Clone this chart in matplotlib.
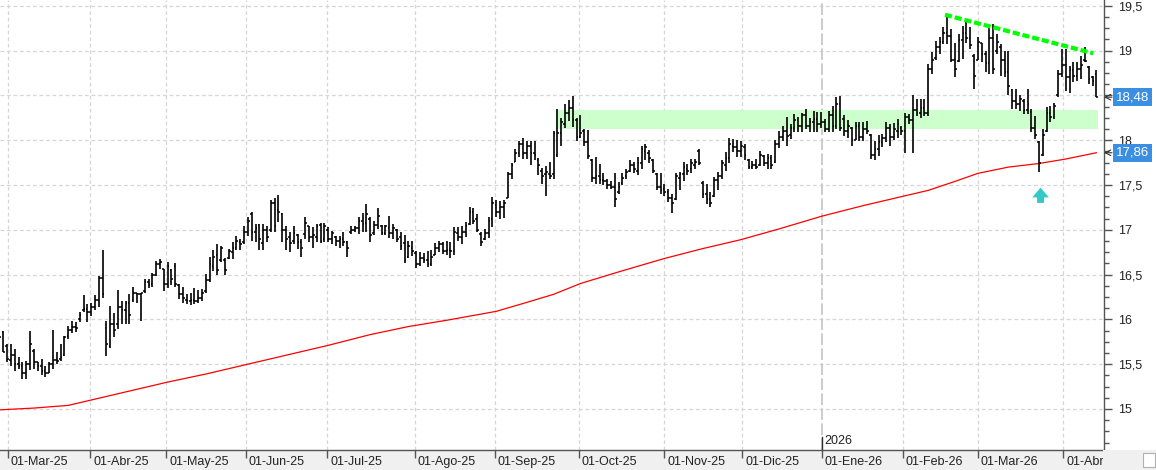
# Daily OHLC chart with 200-session average, support band and falling trendline
import numpy as np
import matplotlib
matplotlib.use("Agg")
import matplotlib.pyplot as plt
from matplotlib.patches import Rectangle
from matplotlib.ticker import MultipleLocator, FuncFormatter
from matplotlib.transforms import blended_transform_factory, ScaledTranslation

plt.rcParams['font.family'] = ['Liberation Sans', 'DejaVu Sans']

# ---- data (bar 0 = 03-Mar-25, first two bars are late February) ----
first_bar = -2

highs = [
    15.88, 15.87, 15.72, 15.72, 15.67, 15.58, 15.52, 15.54, 15.87, 15.67, 15.52, 15.56,
    15.48, 15.52, 15.88, 15.64, 15.72, 15.82, 15.93, 15.98, 15.97, 16.08,
    16.27, 16.17, 16.18, 16.27, 16.48, 16.77, 15.98, 16.15, 16.07, 16.33,
    16.21, 16.21, 16.28, 16.36, 16.30, 16.30, 16.45, 16.45, 16.52, 16.65,
    16.67, 16.56, 16.64, 16.56, 16.63, 16.40, 16.36, 16.28,
    16.30, 16.35, 16.33, 16.34, 16.51, 16.70, 16.77, 16.84, 16.82, 16.69,
    16.79, 16.86, 16.93, 16.90, 17.04, 17.14, 17.20, 17.06, 17.07, 17.07,
    17.04, 17.33, 17.36, 17.39, 17.19, 17.04, 16.97, 17.04, 16.95, 16.90,
    17.14, 17.04, 17.03, 17.07, 17.08, 17.08, 17.03, 16.99, 16.93, 16.93,
    16.97, 16.88, 17.04, 17.04, 17.14, 17.19, 17.29, 17.14, 17.10, 17.24,
    17.05, 17.05, 17.15, 17.06, 17.01, 16.97, 16.94, 16.88, 16.88, 16.76,
    16.75, 16.74, 16.76, 16.77, 16.85, 16.88, 16.86, 16.87, 16.86, 17.03,
    17.03, 17.04, 17.09, 17.25, 17.24, 17.18, 16.97, 17.01, 17.14, 17.37,
    17.33, 17.32, 17.33, 17.65, 17.75, 17.90, 17.99, 18.03, 17.99, 17.99,
    17.99, 17.80, 17.69, 17.71, 17.76, 18.10, 18.35, 18.25, 18.40, 18.45,
    18.49, 18.25, 18.28, 18.12, 18.11, 17.79, 17.81, 17.73, 17.63, 17.57,
    17.55, 17.63, 17.53, 17.63, 17.68, 17.78, 17.76, 17.81, 17.94, 17.96,
    17.89, 17.79, 17.63, 17.63, 17.51, 17.46, 17.40, 17.63, 17.65, 17.76,
    17.73, 17.79, 17.79, 17.90, 17.55, 17.51, 17.42, 17.59, 17.65, 17.78,
    17.87, 18.03, 18.01, 18.00, 17.99, 17.96, 17.79, 17.77, 17.79, 17.88,
    17.83, 17.85, 17.84, 18.00, 18.10, 18.16, 18.26, 18.18, 18.29, 18.26,
    18.30, 18.35, 18.25, 18.33, 18.31, 18.32, 18.24, 18.33, 18.38, 18.48,
    18.49, 18.28, 18.22, 18.15, 18.20, 18.20, 18.20, 18.21, 18.07, 17.99,
    18.06, 18.07, 18.20, 18.18, 18.19, 18.24, 18.16, 18.30, 18.29, 18.50,
    18.46, 18.46, 18.46, 18.85, 18.98, 19.11, 19.15, 19.26, 19.41, 19.24,
    19.09, 19.19, 19.28, 19.32, 19.26, 18.96, 19.15, 19.09, 19.00, 19.26,
    19.30, 19.19, 19.07, 19.00, 19.00, 18.57, 18.57, 18.51, 18.46, 18.57,
    18.35, 18.27, 17.99, 18.12, 18.37, 18.38, 18.42, 18.78, 19.02, 19.02,
    18.83, 18.87, 18.87, 18.94, 19.04, 18.83, 18.72, 18.78,
]

lows = [
    15.70, 15.64, 15.52, 15.48, 15.42, 15.45, 15.34, 15.34, 15.43, 15.45, 15.42, 15.38,
    15.36, 15.40, 15.45, 15.50, 15.54, 15.59, 15.78, 15.85, 15.86, 15.97,
    16.08, 15.97, 16.04, 16.10, 16.14, 16.24, 15.59, 15.68, 15.80, 15.89,
    15.95, 15.95, 15.95, 16.19, 16.18, 15.98, 16.30, 16.35, 16.36, 16.48,
    16.56, 16.32, 16.35, 16.38, 16.36, 16.23, 16.18, 16.17,
    16.16, 16.17, 16.18, 16.20, 16.30, 16.42, 16.54, 16.50, 16.64, 16.50,
    16.67, 16.67, 16.78, 16.78, 16.84, 16.93, 16.88, 16.86, 16.77, 16.77,
    16.86, 16.97, 16.98, 17.09, 16.86, 16.77, 16.75, 16.84, 16.79, 16.70,
    16.90, 16.86, 16.80, 16.86, 16.85, 16.86, 16.86, 16.84, 16.82, 16.80,
    16.82, 16.70, 16.95, 16.97, 16.95, 16.97, 16.98, 16.86, 16.94, 17.01,
    16.94, 16.94, 16.91, 16.90, 16.86, 16.77, 16.63, 16.69, 16.71, 16.57,
    16.60, 16.63, 16.58, 16.60, 16.72, 16.75, 16.73, 16.72, 16.69, 16.72,
    16.88, 16.84, 16.92, 17.05, 17.06, 16.97, 16.82, 16.89, 16.91, 17.03,
    17.14, 17.12, 17.13, 17.35, 17.57, 17.76, 17.81, 17.79, 17.79, 17.72,
    17.78, 17.61, 17.51, 17.38, 17.57, 17.57, 17.81, 17.94, 18.14, 18.21,
    18.15, 17.99, 18.02, 17.94, 17.79, 17.53, 17.51, 17.51, 17.50, 17.46,
    17.46, 17.26, 17.40, 17.50, 17.57, 17.65, 17.63, 17.61, 17.68, 17.78,
    17.74, 17.63, 17.44, 17.40, 17.38, 17.31, 17.19, 17.33, 17.44, 17.55,
    17.61, 17.63, 17.68, 17.72, 17.35, 17.29, 17.25, 17.37, 17.44, 17.57,
    17.66, 17.74, 17.87, 17.81, 17.81, 17.78, 17.68, 17.68, 17.68, 17.71,
    17.71, 17.68, 17.68, 17.75, 17.91, 17.99, 17.94, 18.01, 18.09, 18.09,
    18.09, 18.12, 18.09, 18.09, 18.09, 18.14, 18.09, 18.09, 18.09, 18.12,
    18.10, 18.05, 18.03, 17.94, 18.00, 17.99, 17.99, 18.07, 17.79, 17.78,
    17.82, 17.92, 17.98, 17.94, 18.00, 18.03, 18.06, 17.86, 18.18, 17.86,
    18.27, 18.25, 18.27, 18.27, 18.74, 18.89, 18.96, 19.07, 19.07, 18.87,
    18.70, 18.87, 18.91, 19.09, 19.02, 18.57, 18.89, 18.87, 18.76, 18.74,
    18.74, 18.96, 18.72, 18.70, 18.51, 18.35, 18.35, 18.33, 18.29, 18.29,
    18.09, 18.01, 17.64, 17.82, 18.09, 18.20, 18.24, 18.48, 18.70, 18.55,
    18.53, 18.65, 18.66, 18.68, 18.87, 18.63, 18.61, 18.48,
]

opens = [
    15.80, 15.86, 15.70, 15.55, 15.60, 15.50, 15.48, 15.40, 15.50, 15.65, 15.52, 15.48,
    15.42, 15.40, 15.50, 15.55, 15.56, 15.60, 15.82, 15.88, 15.92, 16.00,
    16.10, 16.12, 16.08, 16.14, 16.22, 16.46, 15.90, 15.70, 15.95, 15.95,
    16.14, 16.10, 16.18, 16.22, 16.30, 16.28, 16.32, 16.42, 16.40, 16.50,
    16.62, 16.56, 16.40, 16.55, 16.60, 16.38, 16.28, 16.22,
    16.20, 16.22, 16.20, 16.24, 16.32, 16.44, 16.60, 16.72, 16.66, 16.66,
    16.68, 16.75, 16.80, 16.86, 16.86, 16.98, 17.18, 16.98, 17.05, 16.85,
    17.00, 17.00, 17.30, 17.22, 17.18, 17.00, 16.92, 16.88, 16.94, 16.86,
    16.95, 17.04, 16.92, 16.92, 17.05, 16.90, 17.00, 16.90, 16.92, 16.88,
    16.90, 16.86, 16.98, 17.00, 17.02, 17.10, 17.08, 17.12, 16.96, 17.05,
    17.04, 16.96, 17.02, 16.96, 17.00, 16.92, 16.85, 16.70, 16.80, 16.74,
    16.62, 16.68, 16.66, 16.62, 16.72, 16.80, 16.84, 16.76, 16.78, 16.76,
    16.96, 16.92, 16.98, 17.06, 17.20, 17.12, 16.95, 16.90, 16.96, 17.12,
    17.28, 17.20, 17.26, 17.36, 17.62, 17.76, 17.86, 17.96, 17.86, 17.94,
    17.86, 17.78, 17.66, 17.62, 17.62, 17.62, 17.84, 18.08, 18.18, 18.30,
    18.36, 18.22, 18.04, 18.10, 17.98, 17.78, 17.58, 17.60, 17.56, 17.54,
    17.50, 17.48, 17.42, 17.52, 17.60, 17.66, 17.72, 17.66, 17.74, 17.88,
    17.86, 17.78, 17.62, 17.48, 17.46, 17.42, 17.36, 17.34, 17.58, 17.62,
    17.68, 17.68, 17.72, 17.88, 17.52, 17.40, 17.34, 17.38, 17.56, 17.60,
    17.72, 17.80, 17.94, 17.92, 17.88, 17.92, 17.78, 17.70, 17.72, 17.72,
    17.82, 17.74, 17.80, 17.76, 17.96, 18.04, 18.10, 18.06, 18.14, 18.22,
    18.16, 18.28, 18.16, 18.20, 18.24, 18.18, 18.20, 18.12, 18.28, 18.16,
    18.40, 18.24, 18.10, 18.14, 18.00, 18.16, 18.04, 18.12, 18.06, 17.84,
    17.90, 17.98, 18.02, 18.14, 18.04, 18.10, 18.14, 18.10, 18.26, 18.22,
    18.34, 18.30, 18.36, 18.30, 18.80, 18.92, 19.04, 19.10, 19.20, 19.16,
    18.90, 18.88, 19.12, 19.20, 19.14, 18.94, 18.90, 19.08, 18.96, 18.86,
    19.14, 19.00, 19.04, 18.90, 18.76, 18.56, 18.44, 18.40, 18.44, 18.34,
    18.32, 18.14, 17.98, 17.84, 18.10, 18.30, 18.26, 18.50, 18.74, 18.84,
    18.70, 18.78, 18.72, 18.80, 18.90, 18.82, 18.70, 18.74,
]

closes = [
    15.80, 15.64, 15.56, 15.60, 15.50, 15.48, 15.40, 15.50, 15.72, 15.52, 15.48, 15.42,
    15.40, 15.50, 15.55, 15.54, 15.58, 15.80, 15.88, 15.92, 15.90, 16.05,
    16.12, 16.08, 16.14, 16.22, 16.46, 16.28, 15.72, 15.95, 15.88, 16.14,
    16.10, 16.18, 16.05, 16.30, 16.28, 16.30, 16.42, 16.38, 16.50, 16.62,
    16.64, 16.40, 16.60, 16.45, 16.40, 16.28, 16.24, 16.20,
    16.22, 16.20, 16.24, 16.30, 16.44, 16.62, 16.70, 16.55, 16.80, 16.55,
    16.76, 16.80, 16.88, 16.84, 16.98, 17.10, 16.98, 17.02, 16.90, 17.00,
    16.92, 17.30, 17.04, 17.20, 17.00, 16.90, 16.85, 16.96, 16.86, 16.80,
    17.08, 16.92, 16.94, 17.04, 16.88, 17.04, 16.90, 16.96, 16.88, 16.90,
    16.86, 16.80, 17.00, 17.02, 17.10, 17.06, 17.18, 16.94, 17.05, 17.15,
    16.96, 17.04, 16.96, 17.02, 16.90, 16.82, 16.66, 16.82, 16.76, 16.62,
    16.68, 16.66, 16.62, 16.70, 16.80, 16.84, 16.76, 16.78, 16.76, 16.98,
    16.92, 16.98, 17.04, 17.20, 17.10, 17.00, 16.86, 16.96, 17.10, 17.30,
    17.20, 17.26, 17.30, 17.62, 17.72, 17.86, 17.96, 17.86, 17.94, 17.86,
    17.84, 17.72, 17.60, 17.65, 17.60, 18.08, 18.08, 18.20, 18.30, 18.36,
    18.22, 18.04, 18.08, 17.98, 17.82, 17.58, 17.60, 17.56, 17.54, 17.50,
    17.48, 17.34, 17.48, 17.58, 17.64, 17.72, 17.68, 17.74, 17.90, 17.92,
    17.80, 17.66, 17.48, 17.44, 17.42, 17.36, 17.30, 17.60, 17.62, 17.70,
    17.66, 17.74, 17.76, 17.74, 17.40, 17.34, 17.30, 17.56, 17.60, 17.74,
    17.80, 17.96, 17.92, 17.88, 17.94, 17.84, 17.70, 17.72, 17.70, 17.84,
    17.74, 17.80, 17.72, 17.96, 18.04, 18.10, 18.05, 18.14, 18.22, 18.16,
    18.28, 18.16, 18.20, 18.24, 18.18, 18.20, 18.12, 18.28, 18.16, 18.40,
    18.14, 18.10, 18.16, 18.00, 18.16, 18.04, 18.12, 18.10, 17.84, 17.90,
    17.98, 18.02, 18.14, 18.04, 18.12, 18.18, 18.10, 18.26, 18.22, 18.34,
    18.30, 18.36, 18.30, 18.80, 18.90, 19.04, 19.10, 19.20, 19.16, 18.90,
    18.80, 19.12, 19.20, 19.14, 19.06, 18.72, 19.10, 18.96, 18.86, 19.14,
    18.80, 19.10, 18.90, 18.76, 18.60, 18.44, 18.40, 18.46, 18.34, 18.40,
    18.14, 18.06, 17.74, 18.06, 18.30, 18.26, 18.38, 18.74, 18.84, 18.70,
    18.78, 18.72, 18.80, 18.84, 18.88, 18.68, 18.66, 18.48,
]

# 200-session moving average, read at a set of bars
ma_bar = [-2, 7, 16, 22, 32, 42, 52, 63, 73, 84, 95, 105, 115, 128, 136, 143,
          150, 160, 172, 182, 192, 202, 213, 224, 234, 241, 248, 254, 262, 270, 277, 285]
ma_val = [14.99, 15.01, 15.04, 15.10, 15.20, 15.30, 15.39, 15.50, 15.60, 15.71,
          15.83, 15.92, 15.99, 16.09, 16.19, 16.28, 16.40, 16.53, 16.68, 16.79,
          16.89, 17.01, 17.15, 17.27, 17.37, 17.44, 17.54, 17.63, 17.70, 17.74,
          17.79, 17.86]

month_labels = ['01-Mar-25', '01-Abr-25', '01-May-25', '01-Jun-25', '01-Jul-25',
                '01-Ago-25', '01-Sep-25', '01-Oct-25', '01-Nov-25', '01-Dic-25',
                '01-Ene-26', '01-Feb-26', '01-Mar-26', '01-Abr-26']
month_pos = [0.23, 21.7, 41.6, 62.5, 83.7, 106.7, 127.6, 149.6, 171.9, 192.3,
             213.2, 234.4, 254.0, 276.3]
year_label = '2026'
year_pos = 213.2

# support band and trendline
zone_low, zone_high = 18.13, 18.34
zone_from, zone_to = 143.6, 285.3
trend_x = [245.4, 284.2]
trend_y = [19.40, 18.97]
signal_bar, signal_top, signal_bottom = 270.4, 17.47, 17.30

last_close = 18.48
last_ma = 17.86

# ---- figure ----
W, H = 1156, 470
fig = plt.figure(figsize=(W / 100, H / 100), dpi=100)
fig.patch.set_facecolor('white')
ax = fig.add_axes([0, 20 / H, 1104 / W, 450 / H])

x = np.arange(len(highs)) + first_bar
assert len(highs) == len(lows) == len(opens) == len(closes)

grid_kw = dict(color='#d6d6d6', lw=0.9, ls=(0, (3, 2.2)), zorder=0)
for yv in np.arange(15, 19.51, 0.5):
    ax.axhline(yv, **grid_kw)
for p, lab in zip(month_pos, month_labels):
    if lab == '01-Ene-26':
        ax.axvline(p, color='#c4c4c4', lw=1.2, ls=(0, (7, 2)), zorder=0)
    else:
        ax.axvline(p, **grid_kw)

ax.add_patch(Rectangle((zone_from, zone_low), zone_to - zone_from, zone_high - zone_low,
                       facecolor='#ccffcc', edgecolor='none', zorder=1))

ax.plot(ma_bar, ma_val, color='#ff0000', lw=0.9, zorder=2)

tw = 0.45
ax.vlines(x, lows, highs, colors='black', lw=1.2, zorder=3)
ax.hlines(opens, x - tw, x, colors='black', lw=1.1, zorder=3)
ax.hlines(closes, x, x + tw, colors='black', lw=1.1, zorder=3)

ax.plot(trend_x, trend_y, color='#00ff00', lw=3, ls=(0, (1.7, 0.7)),
        solid_capstyle='butt', dash_capstyle='butt', zorder=4)

ax.annotate('', xy=(signal_bar, signal_top), xytext=(signal_bar, signal_bottom),
            arrowprops=dict(facecolor='#33c9c9', edgecolor='none', width=5,
                            headwidth=12, headlength=7, shrink=0), zorder=5)

ax.set_xlim(-1.86, 287.0)
ax.set_ylim(14.542, 19.565)

for s in ['top', 'left']:
    ax.spines[s].set_visible(False)
for s in ['bottom', 'right']:
    ax.spines[s].set_color('#555555')
    ax.spines[s].set_linewidth(1.0)

# price scale; the 18,5 label sits under the last-close box in the original
def price_fmt(v, _):
    if abs(v - 18.5) < 1e-6:
        return ''
    return f'{v:g}'.replace('.', ',')

ax.yaxis.tick_right()
ax.yaxis.set_major_locator(MultipleLocator(0.5))
ax.yaxis.set_minor_locator(MultipleLocator(0.125))
ax.yaxis.set_major_formatter(FuncFormatter(price_fmt))
ax.tick_params(axis='y', which='major', length=6, width=1, color='#555555',
               labelsize=9, labelcolor='#222222', pad=4)
ax.tick_params(axis='y', which='minor', length=3.5, width=1, color='#555555')

ax.set_xticks(month_pos)
ax.set_xticklabels([])
ax.tick_params(axis='x', length=6, width=1, color='#555555')

# bottom strip with date labels
fig.add_artist(Rectangle((0, 0), 1, 20 / H, transform=fig.transFigure,
                         facecolor='#f0f0f0', edgecolor='none', zorder=-1))
bx = blended_transform_factory(ax.transData, ax.transAxes)
off = ScaledTranslation(3 / 100, -12 / 100, fig.dpi_scale_trans)
for p, lab in zip(month_pos, month_labels):
    ax.text(p, 0, lab, transform=bx + off, ha='left', va='center',
            fontsize=9, color='#222222', clip_on=False)
ax.text(year_pos, 0, year_label, transform=bx + ScaledTranslation(2 / 100, 9 / 100, fig.dpi_scale_trans),
        ha='left', va='center', fontsize=9, color='#222222')
ax.plot([year_pos, year_pos], [0, 0.03], transform=bx, color='#333333', lw=1, clip_on=False)

# cover the last label where it runs past the price scale
fig.add_artist(Rectangle((1103 / W, 0), 53 / W, 20 / H, transform=fig.transFigure,
                         facecolor='#f0f0f0', edgecolor='none', zorder=5))
fig.add_artist(Rectangle((1143 / W, 3 / H), 12 / W, 14 / H, transform=fig.transFigure,
                         facecolor='white', edgecolor='#b0b0b0', lw=0.8, zorder=6))

# last value boxes on the price scale
by = blended_transform_factory(ax.transAxes, ax.transData)
for v in [last_close, last_ma]:
    ax.text(1116 / 1104, v, f'{v:.2f}'.replace('.', ','), transform=by,
            ha='left', va='center', fontsize=9.5, color='white', zorder=10,
            bbox=dict(boxstyle='square,pad=0.24', facecolor='#3b8fe3', edgecolor='none'),
            clip_on=False)
    ax.annotate('', xy=(1104 / 1104, v), xytext=(1112 / 1104, v),
                xycoords=by, textcoords=by,
                arrowprops=dict(arrowstyle='->', color='#333333', lw=0.8,
                                shrinkA=0, shrinkB=0))

fig.savefig('out.png', dpi=100)
